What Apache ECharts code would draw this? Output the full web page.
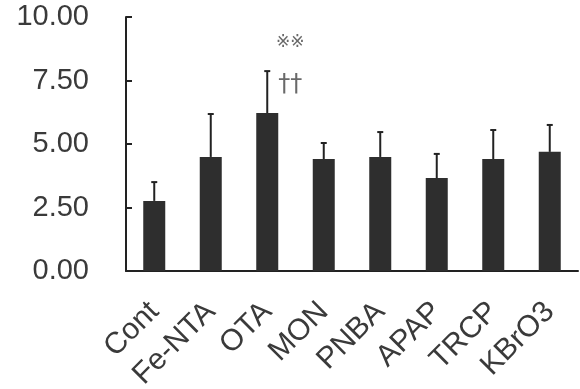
<!DOCTYPE html>
<html><head><meta charset="utf-8">
<script src="https://cdn.jsdelivr.net/npm/echarts@6/dist/echarts.min.js"></script>
<style>html,body{margin:0;padding:0;background:#fff}#c{width:580px;height:389px}</style>
</head><body><div id="c"></div>
<script>
var categories = ['Cont','Fe-NTA','OTA','MON','PNBA','APAP','TRCP','KBrO3'];
var means = [2.76, 4.49, 6.22, 4.41, 4.49, 3.66, 4.41, 4.69];
var errors = [0.74, 1.69, 1.65, 0.63, 0.98, 0.95, 1.14, 1.06];
var yTicks = [0, 2.5, 5, 7.5, 10];
var annotations = [
  {category: 'OTA', value: 8.98, text: '※※', size: 17},
  {category: 'OTA', value: 7.32, text: '††', size: 24}
];

var chart = echarts.init(document.getElementById('c'), null, {renderer: 'canvas'});
var font = 'Liberation Sans, Arial, sans-serif';
chart.setOption({
  animation: false,
  backgroundColor: '#fff',
  grid: {left: 126, right: 2, top: 17, bottom: 118, containLabel: false, outerBoundsMode: 'none'},
  xAxis: {
    type: 'category', data: categories,
    axisLine: {lineStyle: {color: '#222', width: 2}},
    axisTick: {show: false},
    axisLabel: {rotate: 45, margin: 36, color: '#3a3a3a', fontSize: 30, fontFamily: font, interval: 0}
  },
  yAxis: {
    type: 'value', min: yTicks[0], max: yTicks[yTicks.length-1], interval: 2.5,
    splitLine: {show: false},
    axisLine: {show: true, lineStyle: {color: '#222', width: 2}},
    axisTick: {show: true, inside: true, length: 6, lineStyle: {color: '#222', width: 2}},
    axisLabel: {margin: 37, color: '#3a3a3a', fontSize: 29, fontFamily: font,
      formatter: function(v){return v.toFixed(2);}}
  },
  series: [
    {type: 'bar', data: means, barWidth: 22, itemStyle: {color: '#2e2e2e'}},
    {type: 'custom', data: means.map(function(m,i){return [i, m, m+errors[i]];}),
      renderItem: function(params, api){
        var b = api.coord([api.value(0), api.value(1)]);
        var t = api.coord([api.value(0), api.value(2)]);
        return {type: 'group', children: [
          {type: 'line', shape: {x1: b[0], y1: b[1], x2: t[0], y2: t[1]}, style: {stroke: '#222', lineWidth: 2}},
          {type: 'line', shape: {x1: t[0]-3, y1: t[1], x2: t[0]+3, y2: t[1]}, style: {stroke: '#222', lineWidth: 2}}
        ]};
      }, z: 3},
    {type: 'scatter', symbolSize: 0,
      data: annotations.map(function(a){return {value: [a.category, a.value], label: {formatter: a.text, fontSize: a.size}};}),
      label: {show: true, position: 'inside', offset: [23, 0], color: '#444', fontFamily: 'DejaVu Sans, sans-serif'}}
  ]
});
</script></body></html>
